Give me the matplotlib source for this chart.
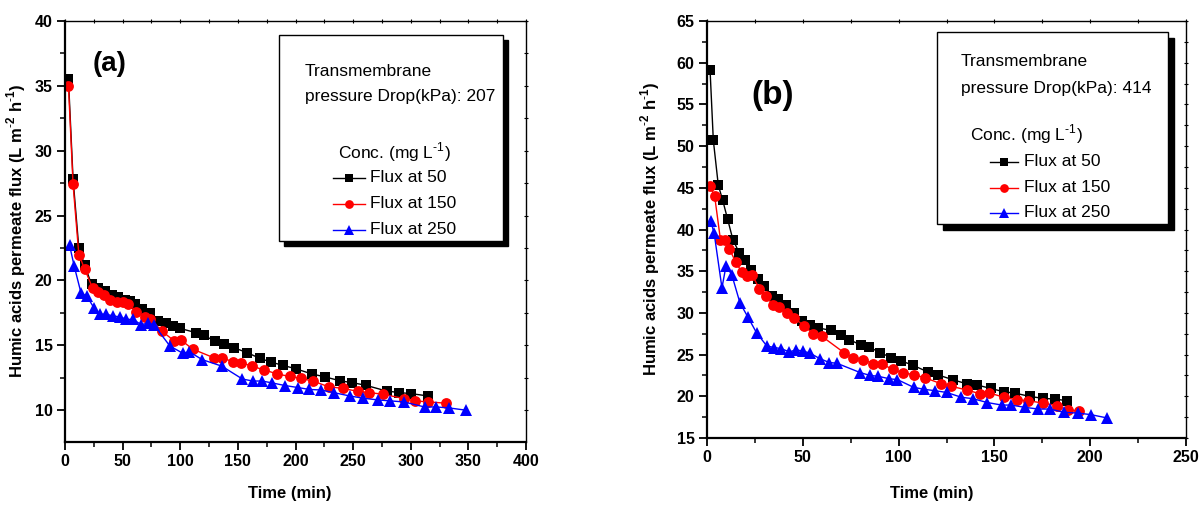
import matplotlib
matplotlib.use("Agg")
import matplotlib.pyplot as plt
from matplotlib.lines import Line2D
from matplotlib.patches import Rectangle
from matplotlib.ticker import MultipleLocator

plt.rcParams['font.family'] = ['Liberation Sans', 'DejaVu Sans']
plt.rcParams['mathtext.fontset'] = 'custom'
plt.rcParams['mathtext.rm'] = 'Liberation Sans'
plt.rcParams['mathtext.bf'] = 'Liberation Sans:bold'

# ---------------- data: panel (a), TMP 207 kPa ----------------
a_t50 = [3, 7, 12, 17, 23, 29, 35, 40.5, 46, 52, 56, 61, 67, 74, 81, 88, 94, 100, 114, 121, 130, 138,
         147, 158, 169, 179, 189, 200, 214, 226, 239, 249, 261, 279, 290, 300, 315]
a_f50 = [35.5, 27.8, 22.5, 21.2, 19.7, 19.4, 19.2, 18.9, 18.7, 18.5, 18.4, 18.2, 17.8, 17.5, 16.9, 16.75,
         16.5, 16.3, 15.97, 15.77, 15.3, 15.13, 14.8, 14.44, 14.0, 13.7, 13.46, 13.2, 12.8, 12.56, 12.26,
         12.13, 11.92, 11.48, 11.36, 11.28, 11.1]
a_t150 = [3, 7, 12, 17, 24, 29, 34, 39, 45, 50, 55, 62, 69, 74, 84, 95, 101, 111, 129, 136, 146, 153,
          162, 173, 184, 195, 205, 215, 229, 241, 254, 264, 276, 294, 304, 315, 331]
a_f150 = [35.0, 27.4, 22.0, 20.9, 19.4, 19.1, 18.9, 18.5, 18.33, 18.33, 18.2, 17.6, 17.2, 17.05, 16.1,
          15.33, 15.38, 14.7, 14.05, 14.05, 13.72, 13.67, 13.4, 13.1, 12.8, 12.6, 12.45, 12.25, 11.8,
          11.69, 11.45, 11.36, 11.23, 10.9, 10.72, 10.64, 10.54]
a_t250 = [4, 8, 14, 19, 25, 30, 36, 42, 48, 53, 59, 66, 72, 77, 91, 102, 108, 119, 136, 154, 163, 171,
          180, 191, 202, 212, 222, 233, 247, 259, 272, 282, 294, 312, 322, 333, 348]
a_f250 = [22.7, 21.1, 19.0, 18.8, 17.9, 17.4, 17.4, 17.25, 17.2, 17.0, 17.0, 16.6, 16.7, 16.6, 14.95,
          14.4, 14.5, 13.9, 13.4, 12.4, 12.25, 12.25, 12.1, 11.9, 11.75, 11.6, 11.56, 11.36, 11.1, 10.92,
          10.79, 10.72, 10.64, 10.25, 10.25, 10.18, 10.0]

# ---------------- data: panel (b), TMP 414 kPa ----------------
b_t50 = [1.6, 3.3, 5.9, 8.2, 10.8, 13.5, 16.8, 19.8, 23, 26.8, 29.9, 33.8, 37.2, 41.1, 45.3, 49.4, 53.8,
         58.1, 64.7, 70, 74.3, 80.2, 84.6, 90.3, 96, 101.3, 107.4, 115.2, 120.7, 128.6, 135.5, 140.7,
         148.1, 155, 160.8, 168.6, 175.5, 181.6, 187.8]
b_f50 = [59.1, 50.7, 45.3, 43.5, 41.2, 38.8, 37.2, 36.3, 35.1, 34.1, 33.2, 32.0, 31.7, 31.0, 30.0, 29.0,
         28.6, 28.2, 27.9, 27.3, 26.8, 26.15, 25.9, 25.25, 24.65, 24.25, 23.73, 22.93, 22.55, 21.97, 21.5,
         21.37, 20.94, 20.54, 20.38, 19.98, 19.75, 19.67, 19.47]
b_t150 = [1.6, 4.0, 7, 9.4, 11.6, 15, 18.1, 21, 23.7, 27.3, 30.8, 34.6, 37.7, 41.9, 45.6, 50.8, 55.5,
          59.9, 71.7, 76.4, 81.3, 86.8, 91.2, 96.9, 102.5, 108, 114, 122.3, 127.5, 135.7, 142.5, 147.4,
          155.2, 161.6, 167.7, 175.5, 182.8, 188.2, 194.2]
b_f150 = [45.2, 44.0, 38.8, 38.8, 37.7, 36.1, 34.9, 34.4, 34.5, 32.9, 32.0, 30.9, 30.75, 30.0, 29.4,
          28.4, 27.5, 27.2, 25.2, 24.65, 24.4, 23.9, 23.85, 23.25, 22.8, 22.6, 22.2, 21.5, 21.2, 20.75,
          20.3, 20.4, 19.87, 19.58, 19.46, 19.19, 18.86, 18.35, 18.27]
b_t250 = [1.9, 3.7, 7.8, 9.9, 12.9, 17.2, 21.2, 25.9, 31.2, 35, 38.5, 43, 46.4, 49.9, 53.8, 59, 63.9,
          67.7, 79.9, 85.1, 89.4, 95.2, 99.4, 107.8, 113.5, 118.8, 125.1, 132.8, 138.7, 146.3, 153.8,
          158.7, 166, 173, 179, 186.5, 193.5, 200.4, 208.9]
b_f250 = [41.0, 39.6, 33.0, 35.6, 34.6, 31.2, 29.56, 27.6, 26.04, 25.85, 25.73, 25.33, 25.56, 25.44,
          25.17, 24.5, 24.05, 23.97, 22.85, 22.5, 22.4, 22.1, 22.0, 21.08, 20.83, 20.68, 20.46, 19.88,
          19.72, 19.25, 18.95, 18.95, 18.67, 18.47, 18.47, 18.07, 17.99, 17.8, 17.4]

# tick labels
a_xticks = [0, 50, 100, 150, 200, 250, 300, 350, 400]
a_yticks = [10, 15, 20, 25, 30, 35, 40]
b_xticks = [0, 50, 100, 150, 200, 250]
b_yticks = [15, 20, 25, 30, 35, 40, 45, 50, 55, 60, 65]

series_labels = ["Flux at 50", "Flux at 150", "Flux at 250"]
colors = ["black", "red", "blue"]
markers = ["s", "o", "^"]
msizes = [7, 7.8, 8.5]

W, H = 1204, 512
fig = plt.figure(figsize=(W / 100, H / 100), dpi=100)


def ax_rect(x0, y0, x1, y1):
    return [x0 / W, 1 - y1 / H, (x1 - x0) / W, (y1 - y0) / H]


axA = fig.add_axes(ax_rect(65, 21, 526, 442))
axB = fig.add_axes(ax_rect(707, 21, 1186, 438))

ylabel = "Humic acids permeate flux (L m$^{\\mathbf{\\text{-}2}}$ h$^{\\mathbf{\\text{-}1}}$)"


def style(ax, xlim, ylim, xticks, yticks, ylab_x, xlab_pos):
    ax.set_xlim(*xlim)
    ax.set_ylim(*ylim)
    ax.set_xticks(xticks, [str(v) for v in xticks], fontweight='bold', fontsize=11.5)
    ax.set_yticks(yticks, [str(v) for v in yticks], fontweight='bold', fontsize=11.5)
    xs = xticks[1] - xticks[0]
    ys = yticks[1] - yticks[0]
    ax.xaxis.set_minor_locator(MultipleLocator(xs / 2))
    ax.yaxis.set_minor_locator(MultipleLocator(ys / 2))
    ax.tick_params(which='major', direction='out', length=6, width=1.3, pad=3,
                   top=False, right=False)
    ax.tick_params(which='minor', direction='out', length=3.5, width=1.1, top=False, right=False)
    for s in ['left', 'bottom']:
        ax.spines[s].set_linewidth(1.6)
    for s in ['top', 'right']:
        ax.spines[s].set_linewidth(1.0)
    # small mirrored ticks on top/right
    axt = ax.secondary_xaxis('top')
    axt.xaxis.set_major_locator(MultipleLocator(xs / 2))
    axt.tick_params(direction='inout', length=3, width=0.8, labeltop=False)
    axt.spines['top'].set_visible(False)
    axr = ax.secondary_yaxis('right')
    axr.yaxis.set_major_locator(MultipleLocator(ys / 2))
    axr.tick_params(direction='inout', length=3, width=0.8, labelright=False)
    axr.spines['right'].set_visible(False)
    ax.set_ylabel(ylabel, fontsize=12, fontweight='bold')
    ax.yaxis.set_label_coords(ylab_x, 0.5)
    ax.set_xlabel("Time (min)", fontsize=12, fontweight='bold')
    ax.xaxis.set_label_coords(*xlab_pos)


style(axA, (0, 400), (7.55, 40), a_xticks, a_yticks, -0.080, (0.488, -0.105))
style(axB, (0, 250), (15, 65), b_xticks, b_yticks, -0.094, (0.47, -0.116))

for ax, data in [(axA, [(a_t50, a_f50), (a_t150, a_f150), (a_t250, a_f250)]),
                 (axB, [(b_t50, b_f50), (b_t150, b_f150), (b_t250, b_f250)])]:
    for (t, f), c, m, ms in zip(data, colors, markers, msizes):
        ax.plot(t, f, color=c, marker=m, markersize=ms, linewidth=1.0, markeredgewidth=0)

axA.text(39, 36.7, "(a)", fontsize=20, fontweight='bold', ha='center', va='center')
axB.text(34, 56.1, "(b)", fontsize=24, fontweight='bold', ha='center', va='center')


def P(x, y):
    return (x / W, 1 - y / H)


def legend_box(x0, y0, x1, y1, shadow, title_x, title_ys, tmp, conc_x, conc_y,
               line_x0, line_x1, text_x, entry_ys):
    fig.patches.append(Rectangle(P(x0 + shadow, y1 + shadow), (x1 - x0) / W, (y1 - y0) / H,
                                 transform=fig.transFigure,
                                 facecolor='black', edgecolor='black', zorder=5))
    fig.patches.append(Rectangle(P(x0, y1), (x1 - x0) / W, (y1 - y0) / H, transform=fig.transFigure,
                                 facecolor='white', edgecolor='black', linewidth=1.0, zorder=6))
    fig.text(*P(title_x, title_ys[0]), "Transmembrane", fontsize=12.5, ha='left', va='center', zorder=7)
    fig.text(*P(title_x, title_ys[1]), "pressure Drop(kPa): " + tmp, fontsize=12.5,
             ha='left', va='center', zorder=7)
    fig.text(*P(conc_x, conc_y), "Conc. (mg L$^{\\text{-}1}$)", fontsize=12.5, ha='left', va='center',
             zorder=7)
    for lab, c, m, ms, yy in zip(series_labels, colors, markers, msizes, entry_ys):
        xa, ya = P(line_x0, yy)
        xb, _ = P(line_x1, yy)
        fig.add_artist(Line2D([xa, xb], [ya, ya], transform=fig.transFigure, color=c, linewidth=1.0,
                              zorder=7))
        fig.add_artist(Line2D([(xa + xb) / 2], [ya], transform=fig.transFigure, color=c, marker=m,
                              markersize=ms - 1.5, markeredgewidth=0, zorder=8))
        fig.text(*P(text_x, yy), lab, fontsize=12.5, ha='left', va='center', zorder=7)


legend_box(279, 35, 503, 241, 5, 305, (71, 97), "207", 338, 152, 333, 365, 370, (178, 204, 229.5))
legend_box(937, 32, 1168, 224, 5.5, 961, (62, 88.5), "414", 970, 134, 990, 1018, 1024,
           (161.5, 187.5, 212.5))

fig.savefig("out.png", dpi=100)
